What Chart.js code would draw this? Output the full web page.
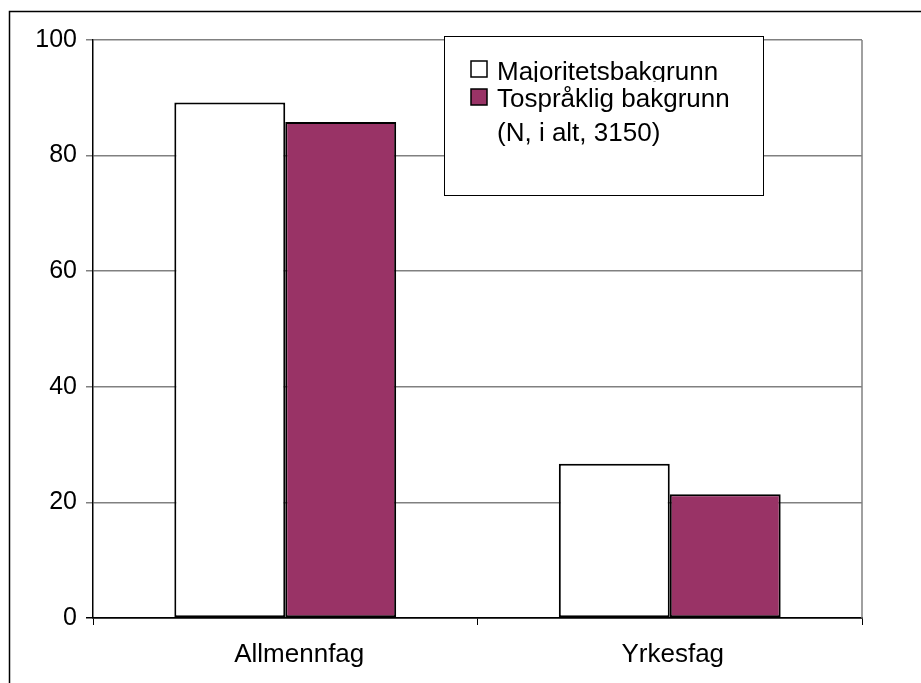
<!DOCTYPE html>
<html>
<head>
<meta charset="utf-8">
<script src="https://cdn.jsdelivr.net/npm/chart.js@4/dist/chart.umd.min.js"></script>
<style>
  html, body { margin: 0; padding: 0; background: #fff; }
  #wrap { width: 921px; height: 683px; position: relative; }
</style>
</head>
<body>
<div id="wrap"><canvas id="c" width="921" height="683"></canvas></div>
<script>
// Categories and series values (per cent)
const categories = ['Allmennfag', 'Yrkesfag'];
const majoritet = [89.2, 26.7];
const tospraklig = [85.8, 21.4];
const seriesNames = ['Majoritetsbakgrunn', 'Tospråklig bakgrunn'];
const legendNote = '(N, i alt, 3150)';
const yTicks = [0, 20, 40, 60, 80, 100];

const FONT = '"Liberation Sans", Arial, sans-serif';
const PURPLE = '#993366';

// Outer frame and grey plot-area edge
const framePlugin = {
  id: 'frame',
  beforeDraw(chart) {
    const ctx = chart.ctx;
    ctx.save();
    ctx.fillStyle = '#fff';
    ctx.fillRect(0, 0, chart.width, chart.height);
    ctx.strokeStyle = '#000';
    ctx.lineWidth = 1.5;
    ctx.strokeRect(9.5, 11.5, chart.width + 20, chart.height + 20);
    ctx.restore();
  },
  beforeDatasetsDraw(chart) {
    const { ctx, chartArea } = chart;
    ctx.save();
    ctx.strokeStyle = '#808080';
    ctx.lineWidth = 1.5;
    ctx.beginPath();
    ctx.moveTo(chartArea.right, chartArea.top);
    ctx.lineTo(chartArea.right, chartArea.bottom);
    ctx.stroke();
    ctx.restore();
  }
};

// Category names under the x axis, nudged the way the original layout sets them
const categoryLabels = {
  id: 'categoryLabels',
  afterDraw(chart) {
    const ctx = chart.ctx;
    const xs = chart.scales.x;
    const nudge = [14, 3];
    ctx.save();
    ctx.font = '26px ' + FONT;
    ctx.fillStyle = '#000';
    ctx.textAlign = 'center';
    ctx.textBaseline = 'alphabetic';
    chart.data.labels.forEach((lab, i) => {
      ctx.fillText(lab, xs.getPixelForValue(i) + nudge[i], 662);
    });
    ctx.restore();
  }
};

// Boxed legend inside the plot area
const boxLegend = {
  id: 'boxLegend',
  afterDraw(chart) {
    const ctx = chart.ctx;
    ctx.save();
    ctx.fillStyle = '#fff';
    ctx.fillRect(444, 36, 319, 159);
    ctx.strokeStyle = '#000';
    ctx.lineWidth = 1;
    ctx.strokeRect(444.5, 36.5, 319, 159);

    ctx.font = '26px ' + FONT;
    ctx.textBaseline = 'alphabetic';
    ctx.textAlign = 'left';
    const rows = [
      { y: 80, sy: 61, clip: 82 },
      { y: 107, sy: 89, clip: null }
    ];
    chart.data.datasets.forEach((ds, i) => {
      const r = rows[i];
      ctx.fillStyle = ds.backgroundColor;
      ctx.fillRect(471, r.sy, 16, 16);
      ctx.strokeStyle = '#000';
      ctx.lineWidth = 1.5;
      ctx.strokeRect(471, r.sy, 16, 16);
      ctx.save();
      if (r.clip) {
        ctx.beginPath();
        ctx.rect(490, 40, 260, r.clip - 40);
        ctx.clip();
      }
      ctx.fillStyle = '#000';
      ctx.fillText(ds.label, 497, r.y);
      ctx.restore();
    });
    ctx.fillStyle = '#000';
    ctx.fillText(legendNote, 497, 141);
    ctx.restore();
  }
};

new Chart(document.getElementById('c'), {
  type: 'bar',
  data: {
    labels: categories,
    datasets: [
      { label: seriesNames[0], data: majoritet, backgroundColor: '#ffffff',
        borderColor: '#000', borderWidth: 2, borderSkipped: false },
      { label: seriesNames[1], data: tospraklig, backgroundColor: PURPLE,
        borderColor: '#000', borderWidth: 2, borderSkipped: false }
    ]
  },
  options: {
    responsive: false,
    animation: false,
    devicePixelRatio: 1,
    layout: { padding: { top: 40, right: 59, left: 0, bottom: 0 } },
    datasets: { bar: { categoryPercentage: 0.577, barPercentage: 1 } },
    plugins: { legend: { display: false }, tooltip: { enabled: false } },
    scales: {
      x: {
        afterFit(scale) { scale.height = 65; },
        grid: { offset: true, drawOnChartArea: false, drawTicks: true, tickLength: 7,
                color: '#000', lineWidth: 1 },
        border: { color: '#000', width: 1.5 },
        ticks: { display: false }
      },
      y: {
        min: 0, max: 100,
        afterFit(scale) { scale.width = 93; },
        afterBuildTicks(scale) { scale.ticks = yTicks.map(v => ({ value: v })); },
        grid: {
          color: ctx => (ctx.tick && ctx.tick.value === 0) ? '#000' : '#808080',
          lineWidth: 1.5, tickLength: 7, drawTicks: true
        },
        border: { color: '#000', width: 1.5 },
        ticks: { color: '#000', font: { family: FONT, size: 25 }, padding: 9 }
      }
    }
  },
  plugins: [framePlugin, categoryLabels, boxLegend]
});
</script>
</body>
</html>
